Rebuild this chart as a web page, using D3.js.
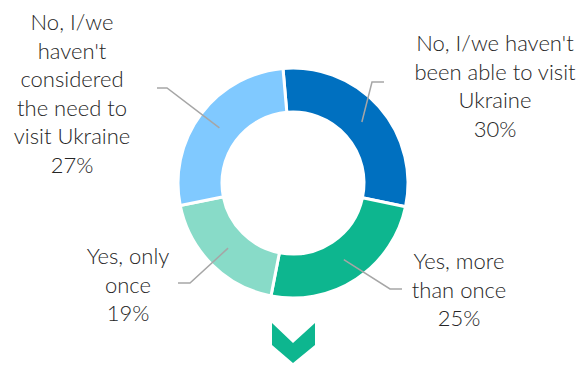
<!DOCTYPE html>
<html>
<head>
<meta charset="utf-8">
<script src="https://cdn.jsdelivr.net/npm/d3@7"></script>
<style>
  body { margin: 0; background: #fff; }
  svg { display: block; }
</style>
</head>
<body>
<div id="chart"></div>
<script>
/* Donut chart: visits to Ukraine */

const categories = [
    "No, I/we haven't been able to visit Ukraine",
    "Yes, more than once",
    "Yes, only once",
    "No, I/we haven't considered the need to visit Ukraine"
];
const values = [30, 25, 19, 27];
const colors = ["#0070C0", "#0DB68F", "#88DBC8", "#80C9FF"];
// label text broken into lines the way the original shows them
const labelLines = [
    ["No, I/we haven't", "been able to visit", "Ukraine", "30%"],
    ["Yes, more", "than once", "25%"],
    ["Yes, only", "once", "19%"],
    ["No, I/we", "haven't", "considered", "the need to", "visit Ukraine", "27%"]
];

const width = 584,
      height = 365,
      cx = 293, cy = 183,
      outerR = 115, innerR = 71;

// where each label sits and where its leader line bends
const labelPos = [
    { x: 495, y: 51, elbow: [372, 82], end: [384, 82] },
    { x: 459, y: 269, elbow: [390, 289], end: [402, 289] },
    { x: 128, y: 264, elbow: [190, 283], end: [178, 283] },
    { x: 72, y: 30, elbow: [167, 88], end: [157, 88] }
];
const lineGap = 28.5;

let svg = d3.select("#chart")
    .append("svg")
    .attr("width", width)
    .attr("height", height);

let pie = d3.pie()
    .sort(null)
    .startAngle(-5 * Math.PI / 180)
    .endAngle(355 * Math.PI / 180);

let arcs = pie(values);

let arc = d3.arc()
    .innerRadius(innerR)
    .outerRadius(outerR);

let mid = d3.arc() // used for leader line start
    .innerRadius(92)
    .outerRadius(92);

let g = svg.append("g")
    .attr("transform", `translate(${cx},${cy})`);

g.selectAll("path.slice")
    .data(arcs)
    .join("path")
    .attr("class", "slice")
    .attr("d", arc)
    .attr("fill", (d, i) => colors[i])
    .attr("stroke", "#fff")
    .attr("stroke-width", 3)
    .append("title")
    .text((d, i) => categories[i]);

// leader lines
svg.selectAll("polyline.leader")
    .data(arcs)
    .join("polyline")
    .attr("class", "leader")
    .attr("points", (d, i) => {
        let c = mid.centroid(d);
        let p = labelPos[i];
        return [[cx + c[0], cy + c[1]], p.elbow, p.end].map(q => q.join(",")).join(" ");
    })
    .attr("fill", "none")
    .attr("stroke", "#A6A6A6")
    .attr("stroke-width", 1.5);

// labels
let label = svg.selectAll("text.label")
    .data(labelLines)
    .join("text")
    .attr("class", "label")
    .attr("text-anchor", "middle")
    .attr("font-family", "Lato, sans-serif")
    .attr("font-weight", 300)
    .attr("font-size", 22)
    .attr("fill", "#262626");

label.selectAll("tspan")
    .data((d, i) => d.map(t => ({ t, i })))
    .join("tspan")
    .attr("x", d => labelPos[d.i].x)
    .attr("y", (d, j) => labelPos[d.i].y + j * lineGap)
    .text(d => d.t);

// chevron under the donut
svg.append("path")
    .attr("d", `M${cx - 21},323 L${cx},343 L${cx + 22},323 L${cx + 22},345 L${cx},363 L${cx - 21},345 Z`)
    .attr("fill", "#0DB68F");
</script>
</body>
</html>
